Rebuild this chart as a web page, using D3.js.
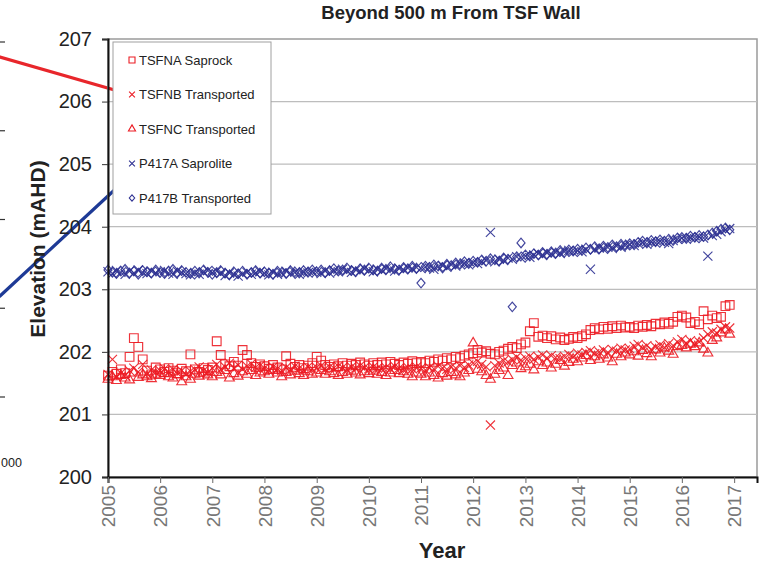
<!DOCTYPE html>
<html>
<head>
<meta charset="utf-8">
<script src="https://cdn.jsdelivr.net/npm/d3@7"></script>
<style>
  html, body { margin: 0; padding: 0; background: #fff; }
  svg { display: block; font-family: "Liberation Sans", Arial, sans-serif; }
</style>
</head>
<body>
<svg id="chart" width="764" height="573"></svg>
<script>
// Monthly groundwater elevations (mAHD), Jan 2005 – Dec 2016
const firstMonth = new Date(2005, 0, 1);
const monthCount = 144;

const tsfnaSaprock = [
  201.62,201.68,201.65,201.72,201.66,201.92,202.22,202.08,201.88,201.70,201.64,201.75,
  201.72,201.68,201.74,201.70,201.66,201.73,201.69,201.96,201.72,201.68,201.74,201.71,
  201.75,202.17,201.95,201.80,201.77,201.84,201.78,202.03,201.95,201.82,201.76,201.80,
  201.77,201.73,201.79,201.75,201.72,201.93,201.81,201.76,201.79,201.74,201.78,201.82,
  201.92,201.86,201.79,201.76,201.80,201.77,201.82,201.78,201.81,201.79,201.83,201.80,
  201.78,201.82,201.79,201.83,201.80,201.84,201.81,201.79,201.83,201.81,201.85,201.82,
  201.84,201.82,201.86,201.84,201.88,201.86,201.90,201.88,201.92,201.90,201.94,201.96,
  201.98,202.03,201.99,202.01,201.97,201.96,202.00,202.02,202.05,202.08,202.06,202.12,
  202.15,202.33,202.46,202.24,202.26,202.22,202.25,202.20,202.23,202.19,202.21,202.24,
  202.22,202.25,202.28,202.35,202.38,202.36,202.40,202.37,202.41,202.38,202.42,202.39,
  202.40,202.38,202.42,202.40,202.43,202.41,202.45,202.44,202.47,202.45,202.48,202.56,
  202.58,202.55,202.46,202.48,202.44,202.65,202.52,202.58,202.54,202.56,202.73,202.75
];

const tsfnbTransported = [
  201.64,201.88,201.60,201.66,201.62,201.70,201.74,201.68,201.80,201.65,201.71,201.67,
  201.70,201.73,201.68,201.72,201.66,201.70,201.64,201.69,201.72,201.76,201.70,201.67,
  201.74,201.80,201.72,201.76,201.82,201.74,201.79,201.72,201.77,201.81,201.75,201.78,
  201.74,201.71,201.76,201.73,201.70,201.75,201.72,201.77,201.74,201.71,201.76,201.73,
  201.75,201.78,201.73,201.76,201.74,201.77,201.75,201.72,201.76,201.74,201.78,201.75,
  201.73,201.76,201.74,201.72,201.75,201.73,201.77,201.74,201.71,201.75,201.73,201.76,
  201.74,201.71,201.75,201.73,201.77,201.74,201.72,201.76,201.74,201.78,201.75,201.79,
  201.82,201.85,201.80,201.76,200.83,201.78,201.82,201.86,201.84,201.88,201.92,201.87,
  201.90,201.93,201.88,201.92,201.95,201.90,201.94,201.91,201.89,201.93,201.96,201.92,
  201.98,201.95,201.99,202.02,201.97,202.00,202.03,201.99,202.04,202.01,202.06,202.03,
  202.05,202.09,202.12,202.06,202.10,202.04,202.08,202.11,202.07,202.13,202.10,202.16,
  202.20,202.14,202.18,202.12,202.16,202.22,202.28,202.32,202.30,202.36,202.40,202.38
];

const tsfncTransported = [
  201.56,201.60,201.54,201.62,201.58,201.55,201.66,201.59,201.63,201.60,201.57,201.64,
  201.62,201.65,201.60,201.58,201.63,201.52,201.60,201.56,201.64,201.61,201.66,201.63,
  201.60,201.67,201.63,201.70,201.58,201.65,201.61,201.68,201.64,201.70,201.62,201.66,
  201.68,201.64,201.70,201.66,201.60,201.67,201.63,201.69,201.65,201.62,201.68,201.64,
  201.66,201.70,201.64,201.68,201.65,201.62,201.67,201.64,201.69,201.66,201.63,201.68,
  201.65,201.69,201.64,201.67,201.62,201.66,201.70,201.65,201.68,201.64,201.60,201.66,
  201.64,201.60,201.66,201.62,201.58,201.65,201.61,201.67,201.63,201.60,201.66,201.70,
  202.14,201.72,201.68,201.62,201.56,201.64,201.70,201.74,201.62,201.78,201.82,201.73,
  201.76,201.80,201.71,201.84,201.78,201.82,201.74,201.80,201.86,201.77,201.83,201.88,
  201.84,201.90,201.94,201.86,201.92,201.88,201.95,201.90,201.84,201.96,201.92,201.98,
  201.95,202.00,201.93,202.02,201.97,201.92,202.03,201.98,202.06,202.01,201.96,202.08,
  202.10,202.06,202.12,202.08,202.14,202.04,201.98,202.18,202.22,202.30,202.35,202.28
];

const p417aSaprolite = [
  203.28,203.25,203.30,203.27,203.24,203.29,203.26,203.31,203.27,203.25,203.29,203.26,
  203.28,203.30,203.26,203.24,203.29,203.27,203.25,203.23,203.27,203.24,203.28,203.30,
  203.26,203.29,203.25,203.22,203.26,203.24,203.21,203.25,203.27,203.24,203.26,203.28,
  203.25,203.23,203.27,203.24,203.26,203.29,203.25,203.27,203.24,203.28,203.26,203.29,
  203.27,203.25,203.29,203.26,203.30,203.28,203.32,203.29,203.27,203.31,203.29,203.33,
  203.30,203.28,203.32,203.30,203.33,203.31,203.29,203.33,203.31,203.34,203.32,203.35,
  203.33,203.36,203.34,203.32,203.36,203.38,203.35,203.39,203.37,203.40,203.42,203.39,
  203.43,203.41,203.44,203.46,203.91,203.44,203.48,203.46,203.50,203.48,203.52,203.50,
  203.53,203.51,203.55,203.57,203.54,203.58,203.56,203.59,203.57,203.60,203.62,203.59,
  203.62,203.60,203.64,203.32,203.63,203.66,203.64,203.67,203.65,203.69,203.67,203.70,
  203.72,203.70,203.73,203.75,203.72,203.76,203.74,203.77,203.75,203.73,203.78,203.80,
  203.82,203.80,203.83,203.81,203.84,203.82,203.53,203.86,203.88,203.92,203.95,203.97
];

const p417bTransported = [
  203.31,203.27,203.25,203.29,203.32,203.26,203.29,203.24,203.30,203.28,203.26,203.31,
  203.27,203.25,203.29,203.32,203.26,203.30,203.27,203.25,203.29,203.26,203.31,203.27,
  203.24,203.27,203.30,203.26,203.23,203.28,203.25,203.29,203.24,203.27,203.30,203.26,
  203.28,203.26,203.24,203.29,203.27,203.25,203.30,203.28,203.26,203.30,203.27,203.31,
  203.28,203.31,203.27,203.30,203.33,203.29,203.31,203.34,203.30,203.28,203.33,203.31,
  203.34,203.31,203.29,203.34,203.32,203.36,203.33,203.31,203.35,203.33,203.37,203.34,
  203.10,203.37,203.35,203.39,203.37,203.34,203.40,203.38,203.42,203.40,203.44,203.41,
  203.45,203.43,203.47,203.45,203.49,203.47,203.45,203.50,203.48,202.72,203.52,203.74,
  203.55,203.53,203.57,203.55,203.59,203.56,203.60,203.58,203.62,203.59,203.63,203.61,
  203.64,203.62,203.66,203.64,203.68,203.65,203.69,203.67,203.71,203.68,203.72,203.70,
  203.73,203.71,203.75,203.77,203.74,203.78,203.76,203.79,203.77,203.80,203.78,203.82,
  203.83,203.81,203.85,203.83,203.86,203.84,203.87,203.90,203.93,203.96,203.98,203.95
];

const seriesNames = ["TSFNA Saprock", "TSFNB Transported", "TSFNC Transported", "P417A Saprolite", "P417B Transported"];
const yTickValues = [200, 201, 202, 203, 204, 205, 206, 207];
const yearTicks = [2005, 2006, 2007, 2008, 2009, 2010, 2011, 2012, 2013, 2014, 2015, 2016, 2017];

const RED = "#ec1c24";
const NAVY = "#2e3192";

const series = [
  { name: seriesNames[0], values: tsfnaSaprock, color: RED, shape: "square" },
  { name: seriesNames[1], values: tsfnbTransported, color: RED, shape: "cross" },
  { name: seriesNames[2], values: tsfncTransported, color: RED, shape: "triangle" },
  { name: seriesNames[3], values: p417aSaprolite, color: NAVY, shape: "cross" },
  { name: seriesNames[4], values: p417bTransported, color: NAVY, shape: "diamond" }
];

const dates = d3.timeMonth.range(firstMonth, d3.timeMonth.offset(firstMonth, monthCount));

const svg = d3.select("#chart");
const plot = { left: 108, top: 39, right: 757, bottom: 477 };

const x = d3.scaleTime()
  .domain([new Date(2005, 0, 1), new Date(2017, 5, 10)])
  .range([plot.left, plot.right]);
const y = d3.scaleLinear().domain([200, 207]).range([plot.bottom, plot.top]);

// ---- neighbouring panel fragment on the left edge ----
const side = svg.append("g").attr("class", "neighbour");
const sideY = d3.scaleLinear().domain([0, 4]).range([42, 397]);
side.selectAll("line.tick").data(d3.range(5)).join("line")
  .attr("x1", 0).attr("x2", 5)
  .attr("y1", d => sideY(d)).attr("y2", d => sideY(d))
  .attr("stroke", "#333").attr("stroke-width", 1.2);
side.append("text").attr("x", 1).attr("y", 467).attr("text-anchor", "start")
  .attr("font-size", 12.5).attr("fill", "#222").text("000");
const sideLines = [
  { color: "#e8262b", pts: [[0, 57], [118, 91]] },
  { color: "#1e3a96", pts: [[0, 296], [122, 183]] }
];
side.selectAll("path").data(sideLines).join("path")
  .attr("d", d => d3.line()(d.pts))
  .attr("stroke", d => d.color).attr("stroke-width", 3.2).attr("fill", "none")
  .attr("stroke-linecap", "round");

// ---- plot frame and grid ----
svg.append("rect")
  .attr("x", plot.left).attr("y", plot.top)
  .attr("width", plot.right - plot.left).attr("height", plot.bottom - plot.top)
  .attr("fill", "none").attr("stroke", "#9a9a9a").attr("stroke-width", 1.5);

svg.append("g").selectAll("line").data(yTickValues.slice(1, -1)).join("line")
  .attr("x1", plot.left).attr("x2", plot.right)
  .attr("y1", d => y(d)).attr("y2", d => y(d))
  .attr("stroke", "#bdbdbd").attr("stroke-width", 1.2);

// ---- markers ----
// diamond a little wider than d3's default rhombus
const wideDiamond = {
  draw(ctx, size) {
    const h = Math.sqrt(size) / 1.6, w = h * 0.85;
    ctx.moveTo(0, -h); ctx.lineTo(w, 0); ctx.lineTo(0, h); ctx.lineTo(-w, 0); ctx.closePath();
  }
};
const symbolFor = {
  square: d3.symbol().type(d3.symbolSquare).size(76),
  triangle: d3.symbol().type(d3.symbolTriangle).size(42),
  diamond: d3.symbol().type(wideDiamond).size(58),
  cross: d3.symbol().type(d3.symbolX).size(56)
};

const markerLayer = svg.append("g");
series.forEach(s => {
  const pts = s.values.map((v, i) => ({ date: dates[i], value: v }));
  markerLayer.append("g").selectAll("path").data(pts).join("path")
    .attr("transform", d => `translate(${x(d.date)},${y(d.value)})`)
    .attr("d", symbolFor[s.shape])
    .attr("fill", "none")
    .attr("stroke", s.color)
    .attr("stroke-width", 1.15)
    .attr("stroke-opacity", 0.9);
});

// ---- axes ----
const yAxis = svg.append("g")
  .attr("transform", `translate(${plot.left},0)`)
  .call(d3.axisLeft(y).tickValues(yTickValues).tickSize(6).tickPadding(10).tickFormat(d3.format("d")));
yAxis.select(".domain").attr("stroke", "#111").attr("stroke-width", 2);
yAxis.selectAll(".tick line").attr("stroke", "#333");
yAxis.selectAll(".tick text").attr("font-size", 20).attr("fill", "#222")
  .attr("font-family", "Liberation Sans, Arial, sans-serif");

const xAxis = svg.append("g")
  .attr("transform", `translate(0,${plot.bottom})`)
  .call(d3.axisBottom(x)
    .tickValues(yearTicks.map(yr => new Date(yr, 0, 1)))
    .tickSize(6)
    .tickFormat(d3.timeFormat("%Y")));
xAxis.select(".domain").attr("stroke", "#111").attr("stroke-width", 2);
xAxis.selectAll(".tick line").attr("stroke", "#666");
xAxis.selectAll(".tick text")
  .attr("font-size", 19).attr("fill", "#777")
  .attr("font-family", "Liberation Sans, Arial, sans-serif")
  .attr("text-anchor", "end")
  .attr("transform", "rotate(-90)")
  .attr("x", -8).attr("y", 0).attr("dy", "0.36em");

// ---- titles ----
svg.append("text").attr("x", 451).attr("y", 19).attr("text-anchor", "middle")
  .attr("font-size", 18.5).attr("font-weight", "bold").attr("fill", "#222")
  .text("Beyond 500 m From TSF Wall");
svg.append("text").attr("x", 442).attr("y", 558).attr("text-anchor", "middle")
  .attr("font-size", 22).attr("font-weight", "bold").attr("fill", "#222")
  .text("Year");
svg.append("text").attr("transform", "translate(45,249) rotate(-90)")
  .attr("text-anchor", "middle")
  .attr("font-size", 21).attr("font-weight", "bold").attr("fill", "#222")
  .text("Elevation (mAHD)");

// ---- legend ----
const legend = svg.append("g");
legend.append("rect").attr("x", 113).attr("y", 42).attr("width", 158).attr("height", 172)
  .attr("fill", "#fff").attr("stroke", "#a0a0a0").attr("stroke-width", 1);
const legendY = d3.scalePoint().domain(seriesNames).range([60, 198]);
const legendSymbols = {
  square: d3.symbol().type(d3.symbolSquare).size(36),
  triangle: d3.symbol().type(d3.symbolTriangle).size(22),
  diamond: d3.symbol().type(wideDiamond).size(26),
  cross: d3.symbol().type(d3.symbolX).size(24)
};
const items = legend.selectAll("g.item").data(series).join("g")
  .attr("transform", d => `translate(0,${legendY(d.name)})`);
items.append("path")
  .attr("transform", "translate(132,0)")
  .attr("d", d => legendSymbols[d.shape]())
  .attr("fill", "none").attr("stroke", d => d.color).attr("stroke-width", 1.1);
items.append("text").attr("x", 139).attr("y", 0).attr("dy", "0.36em")
  .attr("font-size", 13).attr("fill", "#222").text(d => d.name);
</script>
</body>
</html>
